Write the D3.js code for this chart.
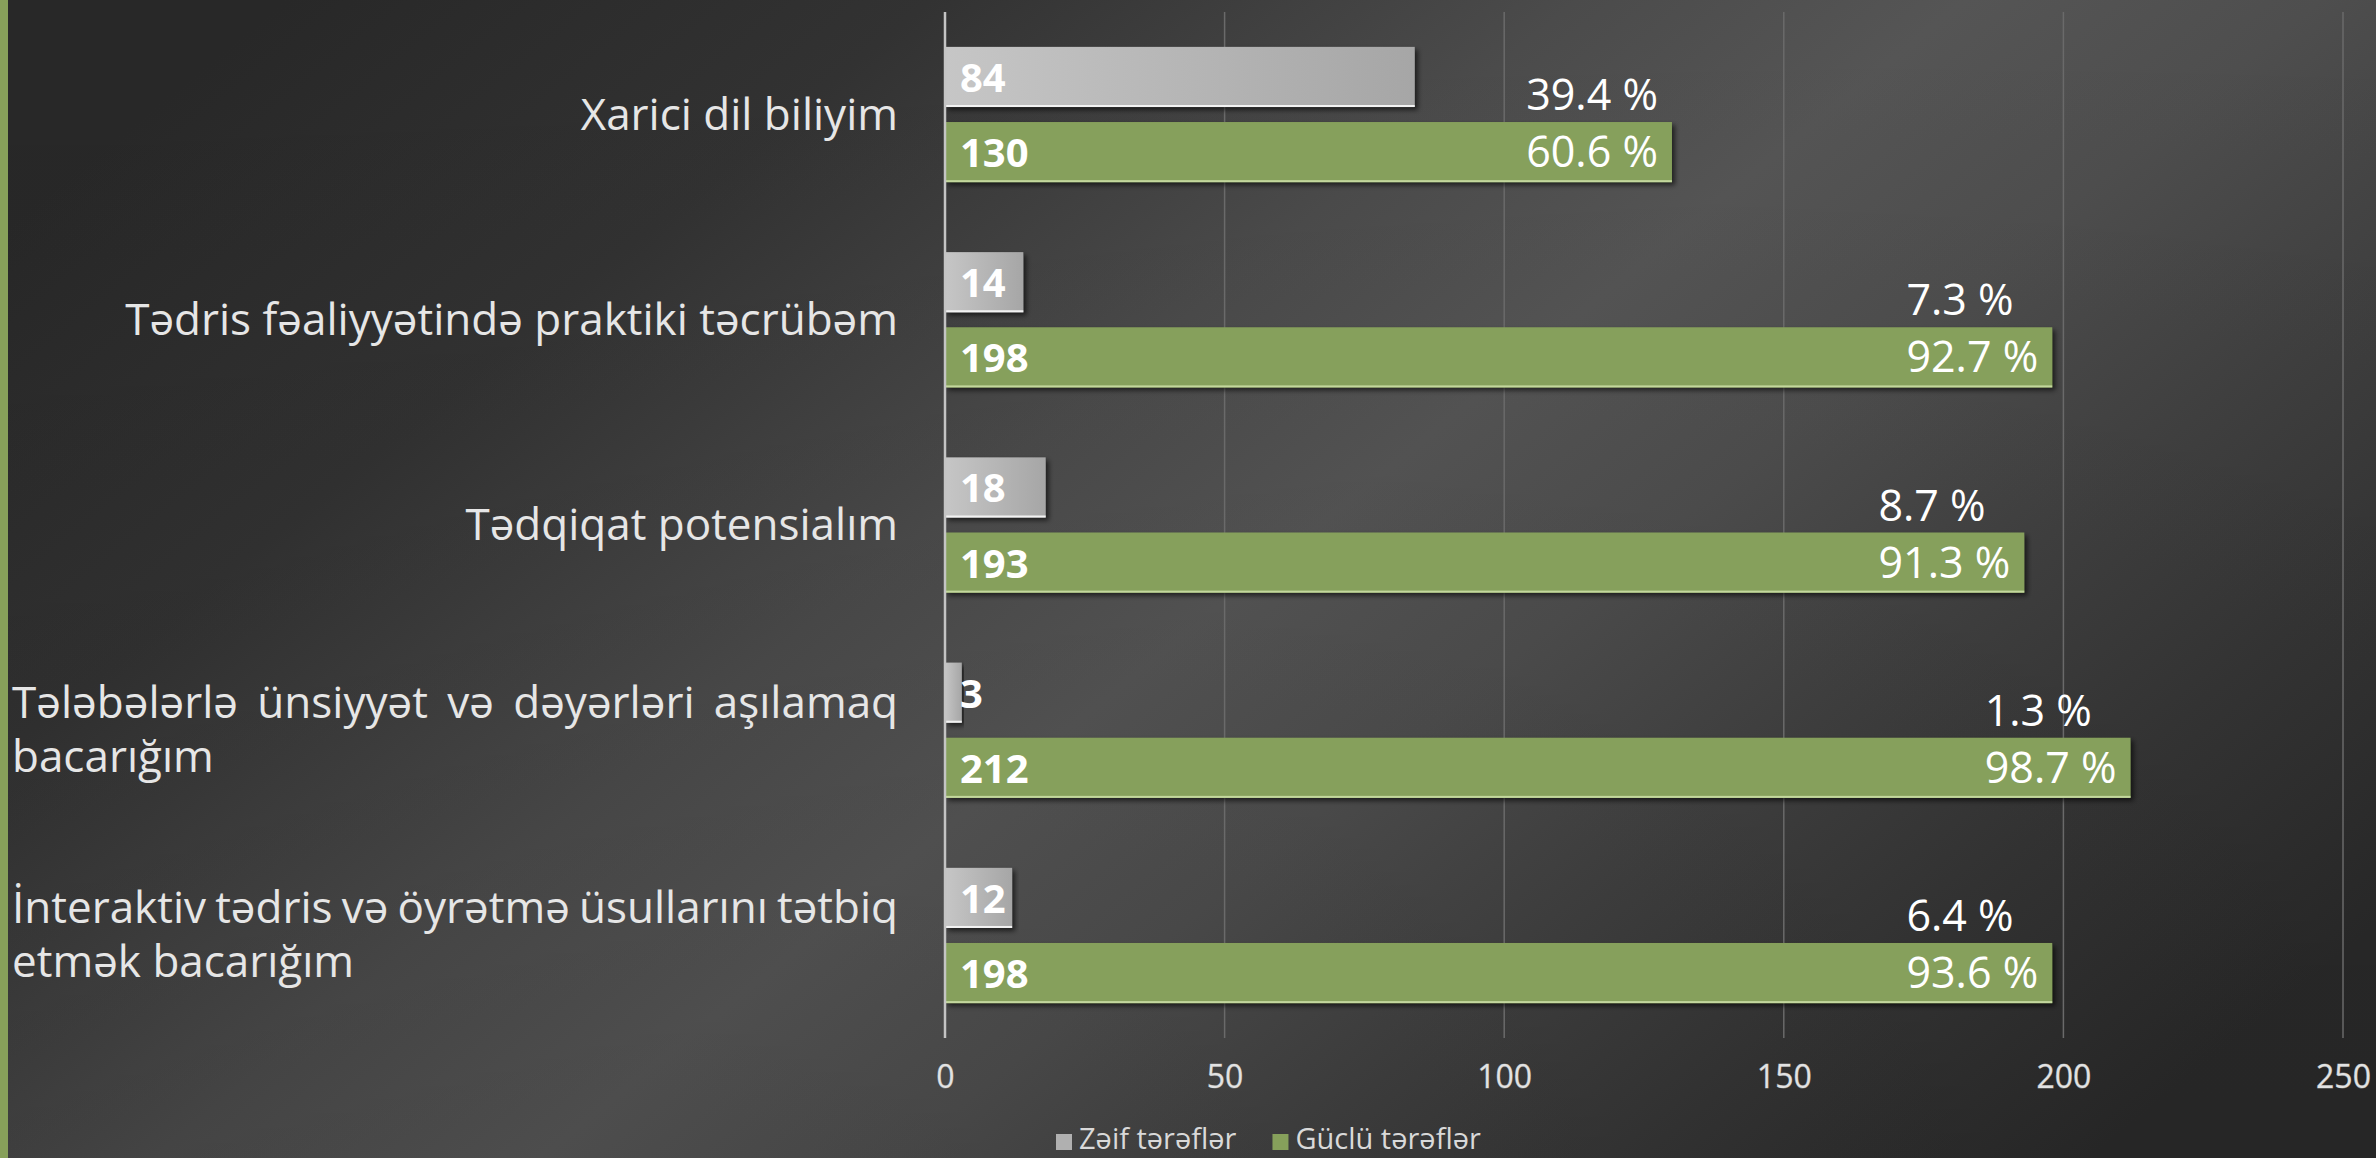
<!DOCTYPE html>
<html>
<head>
<meta charset="utf-8">
<script src="https://cdn.jsdelivr.net/npm/d3@7"></script>
<style>
body { margin: 0; background: #2b2b2b; overflow: hidden; }
svg { display: block; }
</style>
</head>
<body>
<div id="chart"></div>
<script>
// chart values
var categories = [
    "Xarici dil biliyim",
    "Tədris fəaliyyətində praktiki təcrübəm",
    "Tədqiqat potensialım",
    "Tələbələrlə ünsiyyət və dəyərləri aşılamaq bacarığım",
    "İnteraktiv tədris və öyrətmə üsullarını tətbiq etmək bacarığım"
];
var seriesNames = ["Zəif tərəflər", "Güclü tərəflər"];
var weakValues = [84, 14, 18, 3, 12];
var strongValues = [130, 198, 193, 212, 198];
var weakPercent = [39.4, 7.3, 8.7, 1.3, 6.4];
var strongPercent = [60.6, 92.7, 91.3, 98.7, 93.6];
var xTicks = [0, 50, 100, 150, 200, 250];

var W = 2376, H = 1158;
var margin = {top: 12, right: 33, bottom: 120, left: 945},
    width = W - margin.left - margin.right,
    height = H - margin.top - margin.bottom;

var FONT = "'Open Sans', 'Noto Sans', sans-serif";
var colors = {"Zəif tərəflər": "url(#grayGrad)", "Güclü tərəflər": "#86a05b"};
var edgeColors = {"Zəif tərəflər": "#f2f2f2", "Güclü tərəflər": "#c3d79d"};
var legendColors = {"Zəif tərəflər": "#b0b0b0", "Güclü tərəflər": "#86a05b"};

var rows = categories.map(function(c, i) {
    return {
        cat: c,
        values: [
            {name: seriesNames[0], value: weakValues[i]},
            {name: seriesNames[1], value: strongValues[i]}
        ],
        weakPct: weakPercent[i],
        strongPct: strongPercent[i]
    };
});

var svg = d3.select("#chart").append("svg")
    .attr("width", W)
    .attr("height", H);

var defs = svg.append("defs");

// background gradient
var bg = defs.append("linearGradient").attr("id", "bgGrad")
    .attr("x1", "0").attr("y1", "0.2").attr("x2", "1").attr("y2", "0.8");
[[0, "#282828"], [0.2, "#323232"], [0.4, "#4b4b4b"], [0.52, "#555555"], [0.63, "#4e4e4e"],
 [0.75, "#414141"], [0.86, "#363636"], [1, "#2a2a2a"]].forEach(function(s) {
    bg.append("stop").attr("offset", s[0]).attr("stop-color", s[1]);
});
var bgV = defs.append("linearGradient").attr("id", "bgShade")
    .attr("x1", "0").attr("y1", "0").attr("x2", "0").attr("y2", "1");
bgV.append("stop").attr("offset", 0).attr("stop-color", "#000").attr("stop-opacity", 0);
bgV.append("stop").attr("offset", 1).attr("stop-color", "#000").attr("stop-opacity", 0.1);

var gg = defs.append("linearGradient").attr("id", "grayGrad")
    .attr("x1", "0").attr("y1", "0").attr("x2", "1").attr("y2", "0");
gg.append("stop").attr("offset", 0).attr("stop-color", "#c6c6c6");
gg.append("stop").attr("offset", 1).attr("stop-color", "#a6a6a6");

var shadow = defs.append("filter").attr("id", "shadow")
    .attr("x", "-5%").attr("y", "-20%").attr("width", "115%").attr("height", "160%");
shadow.append("feDropShadow").attr("dx", 3).attr("dy", 3).attr("stdDeviation", 2.5)
    .attr("flood-color", "#000").attr("flood-opacity", 0.6);

svg.append("rect").attr("width", W).attr("height", H).attr("fill", "url(#bgGrad)");
svg.append("rect").attr("width", W).attr("height", H).attr("fill", "url(#bgShade)");
// green stripe on the left edge
svg.append("rect").attr("x", 0).attr("y", 0).attr("width", 8).attr("height", H).attr("fill", "#87a05a");

var g = svg.append("g").attr("transform", "translate(" + margin.left + "," + margin.top + ")");

var x = d3.scaleLinear().domain([0, 250]).range([0, width]);
var y0 = d3.scaleBand().domain(categories).range([0, height]).paddingInner(0.341).paddingOuter(0.17);
var y1 = d3.scaleBand().domain(seriesNames).range([0, y0.bandwidth()]).paddingInner(0.2);

// gridlines
g.append("g").selectAll("line")
    .data(xTicks.slice(1))
    .enter().append("line")
    .attr("x1", function(d) { return x(d); })
    .attr("x2", function(d) { return x(d); })
    .attr("y1", 0).attr("y2", height)
    .attr("stroke", "#6a6a6a").attr("stroke-width", 1.5);

// x axis tick labels
var xAxis = g.append("g")
    .attr("transform", "translate(0," + height + ")")
    .call(d3.axisBottom(x).tickValues(xTicks).tickSize(0).tickPadding(27));
xAxis.select(".domain").remove();
xAxis.selectAll("text")
    .attr("font-family", FONT).attr("font-size", 32)
    .attr("fill", "#e2e2e2")
    .attr("stroke", "#7a7a7a").attr("stroke-width", 0.8).attr("paint-order", "stroke");

// bars
var groups = g.selectAll(".cat")
    .data(rows)
    .enter().append("g")
    .attr("class", "cat")
    .attr("transform", function(d) { return "translate(0," + y0(d.cat) + ")"; });

groups.selectAll(".bar")
    .data(function(d) { return d.values; })
    .enter().append("rect")
    .attr("class", "bar")
    .attr("x", 0)
    .attr("y", function(d) { return y1(d.name); })
    .attr("width", function(d) { return x(d.value); })
    .attr("height", y1.bandwidth())
    .attr("fill", function(d) { return colors[d.name]; })
    .attr("filter", "url(#shadow)");

groups.selectAll(".edge")
    .data(function(d) { return d.values; })
    .enter().append("rect")
    .attr("class", "edge")
    .attr("x", 0)
    .attr("y", function(d) { return y1(d.name) + y1.bandwidth() - 2; })
    .attr("width", function(d) { return x(d.value); })
    .attr("height", 2)
    .attr("fill", function(d) { return edgeColors[d.name]; });

// value labels
groups.selectAll(".val")
    .data(function(d) { return d.values; })
    .enter().append("text")
    .attr("class", "val")
    .attr("x", 15)
    .attr("y", function(d) { return y1(d.name) + y1.bandwidth() / 2 + 15; })
    .attr("font-family", FONT).attr("font-weight", 700).attr("font-size", 40)
    .attr("fill", "#ffffff")
    .text(function(d) { return d.value; });

// percent labels
groups.each(function(d) {
    var grp = d3.select(this);
    var top = y1(seriesNames[1]);
    var strongLbl = grp.append("text")
        .attr("x", x(d.values[1].value) - 14)
        .attr("y", top + y1.bandwidth() / 2 + 15)
        .attr("text-anchor", "end")
        .attr("font-family", FONT).attr("font-size", 43)
        .attr("fill", "#ffffff")
        .text(d.strongPct.toFixed(1) + " %");
    var bx = strongLbl.node().getBBox().x;
    grp.append("text")
        .attr("x", bx)
        .attr("y", top - 12)
        .attr("font-family", FONT).attr("font-size", 43)
        .attr("fill", "#ffffff")
        .text(d.weakPct.toFixed(1) + " %");
});

// zero axis line
g.append("line")
    .attr("x1", 0).attr("x2", 0).attr("y1", 0).attr("y2", height)
    .attr("stroke", "#c4c4c4").attr("stroke-width", 2.5);

// category labels, wrapped and justified
var labelRight = -47, labelLeft = 12 - margin.left, labelWidth = labelRight - labelLeft;
var lineGap = 54, labelSize = 44;

var measure = function(txt) {
    var t = g.append("text").attr("font-family", FONT).attr("font-size", labelSize).text(txt);
    var w = t.node().getComputedTextLength();
    t.remove();
    return w;
};

var addLabel = function(xx, yy, txt, anchor) {
    g.append("text")
        .attr("x", xx).attr("y", yy)
        .attr("text-anchor", anchor || "start")
        .attr("font-family", FONT).attr("font-size", labelSize)
        .attr("fill", "#e6e6e6")
        .text(txt);
};

rows.forEach(function(d) {
    var words = d.cat.split(" ");
    var lines = [], cur = [];
    words.forEach(function(w) {
        var test = cur.concat([w]).join(" ");
        // a little slack: justified lines may squeeze their word gaps
        if (cur.length && measure(test) > labelWidth + 50) {
            lines.push(cur);
            cur = [w];
        } else {
            cur.push(w);
        }
    });
    lines.push(cur);

    var cy = y0(d.cat) + y0.bandwidth() / 2;
    var firstBase = cy - (lines.length - 1) * lineGap / 2 + 15;

    if (lines.length == 1) {
        addLabel(labelRight, firstBase, d.cat, "end");
        return;
    }
    lines.forEach(function(ln, li) {
        var yy = firstBase + li * lineGap;
        if (li == lines.length - 1 || ln.length == 1) {
            addLabel(labelLeft, yy, ln.join(" "));
        } else {
            var widths = ln.map(measure);
            var gap = (labelWidth - d3.sum(widths)) / (ln.length - 1);
            var xx = labelLeft;
            ln.forEach(function(w, wi) {
                addLabel(xx, yy, w);
                xx += widths[wi] + gap;
            });
        }
    });
});

// legend
var legend = svg.append("g").attr("transform", "translate(1056,1142)");
var lx = 0;
seriesNames.forEach(function(name) {
    legend.append("rect")
        .attr("x", lx).attr("y", -8)
        .attr("width", 16).attr("height", 16)
        .attr("fill", legendColors[name]);
    var t = legend.append("text")
        .attr("x", lx + 23).attr("y", 7)
        .attr("font-family", FONT).attr("font-size", 29)
        .attr("fill", "#d9d9d9")
        .text(name);
    lx += 23 + t.node().getComputedTextLength() + 36;
});
</script>
</body>
</html>
